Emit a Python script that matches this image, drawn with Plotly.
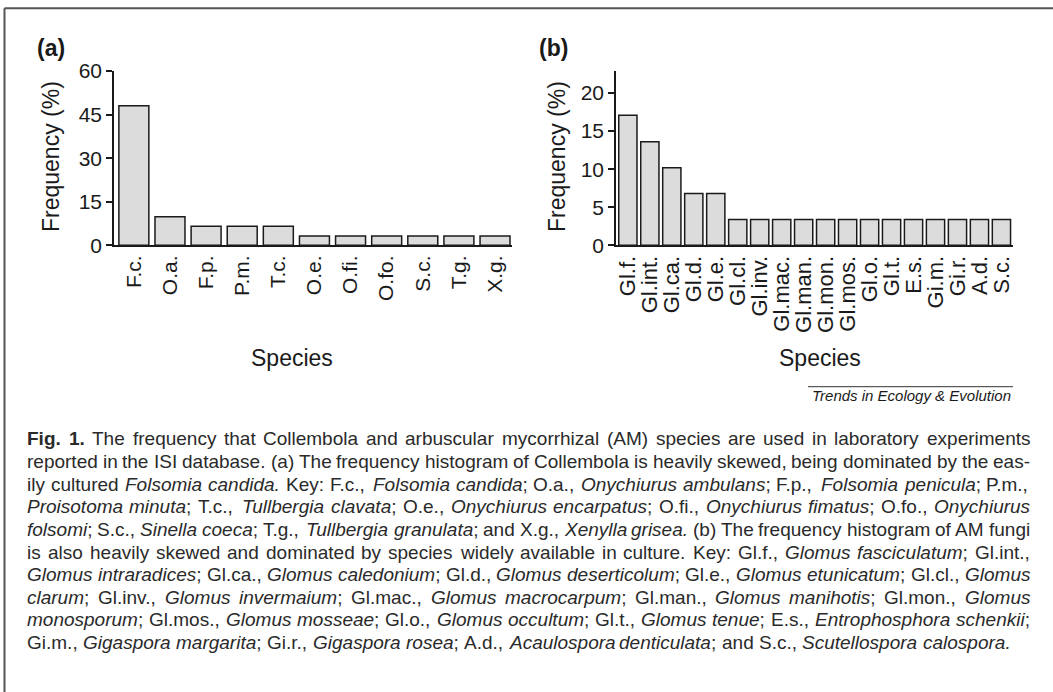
import plotly.graph_objects as go

W, H = 1053, 692

# ---------------- data ----------------
species_a = ["F.c.", "O.a.", "F.p.", "P.m.", "T.c.", "O.e.", "O.fi.", "O.fo.", "S.c.", "T.g.", "X.g."]
freq_a = [48.0, 9.8, 6.6, 6.6, 6.6, 3.2, 3.2, 3.2, 3.2, 3.2, 3.2]
yticks_a = [0, 15, 30, 45, 60]

species_b = ["Gl.f.", "Gl.int.", "Gl.ca.", "Gl.d.", "Gl.e.", "Gl.cl.", "Gl.inv.", "Gl.mac.", "Gl.man.",
             "Gl.mon.", "Gl.mos.", "Gl.o.", "Gl.t.", "E.s.", "Gi.m.", "Gi.r.", "A.d.", "S.c."]
freq_b = [17.1, 13.6, 10.2, 6.8, 6.8, 3.4, 3.4, 3.4, 3.4, 3.4, 3.4, 3.4, 3.4, 3.4, 3.4, 3.4, 3.4, 3.4]
yticks_b = [0, 5, 10, 15, 20]

caption_lines = [
    "*Fig. 1.* The frequency that Collembola and arbuscular mycorrhizal (AM) species are used in laboratory experiments",
    "reported in the ISI database. (a) The frequency histogram of Collembola is heavily skewed, being dominated by the eas-",
    "ily cultured _Folsomia candida._ Key: F.c., _Folsomia candida_; O.a., _Onychiurus ambulans_; F.p., _Folsomia penicula_; P.m.,",
    "_Proisotoma minuta_; T.c., _Tullbergia clavata_; O.e., _Onychiurus encarpatus_; O.fi., _Onychiurus fimatus_; O.fo., _Onychiurus_",
    "_folsomi_; S.c., _Sinella coeca_; T.g., _Tullbergia granulata_; and X.g., _Xenylla grisea._ (b) The frequency histogram of AM fungi",
    "is also heavily skewed and dominated by species widely available in culture. Key: Gl.f., _Glomus fasciculatum_; Gl.int.,",
    "_Glomus intraradices_; Gl.ca., _Glomus caledonium_; Gl.d., _Glomus deserticolum_; Gl.e., _Glomus etunicatum_; Gl.cl., _Glomus_",
    "_clarum_; Gl.inv., _Glomus invermaium_; Gl.mac., _Glomus macrocarpum_; Gl.man., _Glomus manihotis_; Gl.mon., _Glomus_",
    "_monosporum_; Gl.mos., _Glomus mosseae_; Gl.o., _Glomus occultum_; Gl.t., _Glomus tenue_; E.s., _Entrophosphora schenkii_;",
    "Gi.m., _Gigaspora margarita_; Gi.r., _Gigaspora rosea_; A.d., _Acaulospora denticulata_; and S.c., _Scutellospora calospora._",
]

# ---------------- helpers ----------------
def px(x):
    return x / W

def py(y):
    return 1 - y / H

FONT = "Liberation Sans, Arial, Helvetica, sans-serif"
INK = "#1a1a1a"

# Helvetica / Arial advance widths (1/1000 em)
HW = {' ': 278, '!': 278, '(': 333, ')': 333, ',': 278, '-': 333, '.': 278, ';': 278, ':': 278, '&': 667, '%': 889,
      'A': 667, 'B': 667, 'C': 722, 'D': 722, 'E': 667, 'F': 611, 'G': 778, 'H': 722, 'I': 278, 'J': 500, 'K': 667,
      'L': 556, 'M': 833, 'N': 722, 'O': 778, 'P': 667, 'Q': 778, 'R': 722, 'S': 667, 'T': 611, 'U': 722, 'V': 667,
      'W': 944, 'X': 667, 'Y': 667, 'Z': 611,
      'a': 556, 'b': 556, 'c': 500, 'd': 556, 'e': 556, 'f': 278, 'g': 556, 'h': 556, 'i': 222, 'j': 222, 'k': 500,
      'l': 222, 'm': 833, 'n': 556, 'o': 556, 'p': 556, 'q': 556, 'r': 333, 's': 500, 't': 278, 'u': 556, 'v': 500,
      'w': 722, 'x': 500, 'y': 500, 'z': 500}
HWB = {'F': 611, 'i': 278, 'g': 611, '.': 278, '1': 556, ' ': 278}
for d in "0123456789":
    HW[d] = 556


def parse_words(line):
    bold = False
    ital = False
    words = []
    cur = []
    for ch in line:
        if ch == '*':
            bold = not bold
            continue
        if ch == '_':
            ital = not ital
            continue
        if ch == ' ':
            if cur:
                words.append(cur)
            cur = []
            continue
        cur.append((ch, bold, ital))
    if cur:
        words.append(cur)
    return words


def word_html(word):
    out = ""
    i = 0
    while i < len(word):
        b, it = word[i][1], word[i][2]
        j = i
        s = ""
        while j < len(word) and word[j][1] == b and word[j][2] == it:
            s += word[j][0]
            j += 1
        if it:
            s = "<i>" + s + "</i>"
        if b:
            s = "<b>" + s + "</b>"
        out += s
        i = j
    return out


def word_width(word, size):
    tot = 0
    for ch, b, it in word:
        if b:
            tot += HWB.get(ch, HW.get(ch, 556))
        else:
            tot += HW.get(ch, 556)
    return tot * size / 1000.0


# ---------------- figure ----------------
fig = go.Figure()

bar_style = dict(color="#dcdcdd", line=dict(color=INK, width=1.5))
fig.add_trace(go.Bar(x=species_a, y=freq_a, xaxis="x", yaxis="y", marker=bar_style, width=0.83,
                     showlegend=False, hoverinfo="x+y"))
fig.add_trace(go.Bar(x=species_b, y=freq_b, xaxis="x2", yaxis="y2", marker=bar_style, width=0.83,
                     showlegend=False, hoverinfo="x+y"))

ydom = [py(245.3), py(71)]

common_x = dict(type="category", showline=True, linecolor=INK, linewidth=1.5, ticks="", tickangle=-90,
                showgrid=False, zeroline=False, automargin=False, fixedrange=True)
common_y = dict(showline=True, linecolor=INK, linewidth=1.5, ticks="outside", ticklen=6, tickwidth=1.5,
                tickcolor=INK, tickfont=dict(family=FONT, size=21, color=INK), showgrid=False,
                zeroline=False, automargin=False, fixedrange=True)

fig.update_layout(
    width=W, height=H,
    margin=dict(l=0, r=0, t=0, b=0),
    paper_bgcolor="white", plot_bgcolor="white",
    font=dict(family=FONT, color=INK),
    bargap=0.17,
    xaxis=dict(domain=[px(114), px(512)], anchor="y", range=[-0.55, 10.47],
               tickmode="array", tickvals=species_a, ticktext=species_a,
               tickfont=dict(family=FONT, size=21, color=INK), **common_x),
    yaxis=dict(domain=ydom, anchor="x", range=[0, 60], tickvals=yticks_a, **common_y),
    xaxis2=dict(domain=[px(616), px(1013.3)], anchor="y2", range=[-0.54, 17.54],
                tickmode="array", tickvals=species_b, ticktext=species_b,
                tickfont=dict(family=FONT, size=22, color=INK), **common_x),
    yaxis2=dict(domain=ydom, anchor="x2", range=[0, 22.9], tickvals=yticks_b, **common_y),
)

ann = []

def add_text(text, x, y, size, xanchor="center", yanchor="middle", angle=0, color=INK):
    ann.append(dict(text=text, x=px(x), y=py(y), xref="paper", yref="paper", xanchor=xanchor,
                    yanchor=yanchor, showarrow=False, textangle=angle,
                    font=dict(family=FONT, size=size, color=color)))

# panel labels
add_text("<b>(a)</b>", 51, 48, 23)
add_text("<b>(b)</b>", 553, 48, 23)
# axis titles
add_text("Frequency (%)", 51, 157, 23, angle=-90)
add_text("Frequency (%)", 557, 157, 23, angle=-90)
add_text("Species", 292, 358, 23)
add_text("Species", 820, 358, 23)
# source line
add_text("<i>Trends in Ecology &amp; Evolution</i>", 1013, 395, 15, xanchor="right")

# caption, justified word by word
CAP_SIZE = 19
LEFT, RIGHT = 26, 1029
y0, dy = 439, 22.6
for k, line in enumerate(caption_lines):
    words = parse_words(line)
    widths = [word_width(w, CAP_SIZE) for w in words]
    if k < len(caption_lines) - 1 and len(words) > 1:
        gap = max(3.0, (RIGHT - LEFT - sum(widths)) / (len(words) - 1))
    else:
        gap = HW[' '] * CAP_SIZE / 1000.0
    xpos = LEFT
    for w, wd in zip(words, widths):
        ann.append(dict(text=word_html(w), x=px(xpos - 1), y=py(y0 + k * dy), xref="paper", yref="paper",
                        xanchor="left", yanchor="middle", showarrow=False,
                        font=dict(family=FONT, size=CAP_SIZE, color="#2a2a2a")))
        xpos += wd + gap

fig.update_layout(annotations=ann)

# frame and rule
shapes = [
    dict(type="line", xref="paper", yref="paper", x0=px(4.5), x1=px(4.5), y0=py(692), y1=py(8.3),
         line=dict(color="#555555", width=2)),
    dict(type="line", xref="paper", yref="paper", x0=px(4.5), x1=px(1053), y0=py(8.3), y1=py(8.3),
         line=dict(color="#555555", width=2)),
    dict(type="line", xref="paper", yref="paper", x0=px(808), x1=px(1013), y0=py(386.7), y1=py(386.7),
         line=dict(color="#333333", width=1)),
]
fig.update_layout(shapes=shapes)

fig.write_html("out.html", config={"displayModeBar": False},
               post_script="document.body.style.margin='0';document.body.style.overflow='hidden';")
